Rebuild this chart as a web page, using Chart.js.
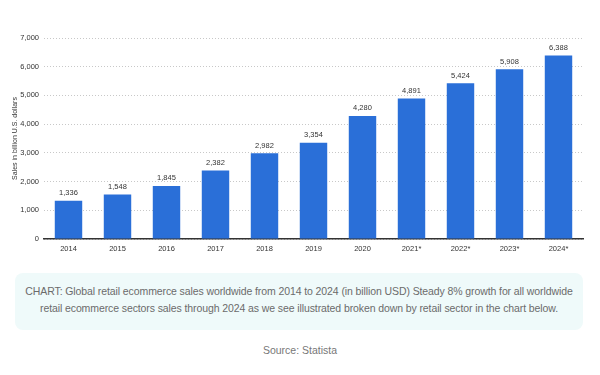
<!DOCTYPE html>
<html>
<head>
<meta charset="utf-8">
<script src="https://cdn.jsdelivr.net/npm/chart.js@4.4.0/dist/chart.umd.min.js"></script>
<style>
  html, body { margin: 0; padding: 0; background: #fff; width: 600px; height: 375px; overflow: hidden; }
  #wrap { position: absolute; left: 0; top: 0; width: 600px; height: 258px; }
  .caption {
    position: absolute; left: 15px; top: 273px; width: 568px; height: 57px;
    background: #effafa; border-radius: 8px;
    font-family: "Liberation Sans", Arial, sans-serif; font-size: 10.5px; line-height: 17px;
    color: #6b6b6b; text-align: center; box-sizing: border-box; padding: 10px 0 0 0;
    white-space: nowrap; letter-spacing: -0.1px;
  }
  .source {
    position: absolute; left: 0; top: 344px; width: 600px; text-align: center;
    font-family: "Liberation Sans", Arial, sans-serif; font-size: 10.5px; color: #777;
  }
</style>
</head>
<body>
<div id="wrap"><canvas id="chart"></canvas></div>
<div class="caption">CHART: Global retail ecommerce sales worldwide from 2014 to 2024 (in billion USD) Steady 8% growth for all worldwide<br>retail ecommerce sectors sales through 2024 as we see illustrated broken down by retail sector in the chart below.</div>
<div class="source">Source: Statista</div>
<script>
// data
const years = ['2014', '2015', '2016', '2017', '2018', '2019', '2020', '2021*', '2022*', '2023*', '2024*'];
const sales = [1336, 1548, 1845, 2382, 2982, 3354, 4280, 4891, 5424, 5908, 6388];
const yTicks = [0, 1000, 2000, 3000, 4000, 5000, 6000, 7000];

const barColor = '#2a6fd8';
const fontFamily = '"Liberation Sans", Arial, sans-serif';

// value labels above each bar
const valueLabels = {
    id: 'valueLabels',
    afterDatasetsDraw(chart) {
        const ctx = chart.ctx;
        const meta = chart.getDatasetMeta(0);
        ctx.save();
        ctx.font = '7.5px ' + fontFamily;
        ctx.fillStyle = '#333';
        ctx.textAlign = 'center';
        ctx.textBaseline = 'bottom';
        meta.data.forEach((bar, i) => {
            ctx.fillText(sales[i].toLocaleString('en-US'), bar.x, bar.y - 4);
        });
        ctx.restore();
    }
};

new Chart(document.getElementById('chart'), {
    type: 'bar',
    data: {
        labels: years,
        datasets: [{
            data: sales,
            backgroundColor: barColor,
            barPercentage: 0.56,
            categoryPercentage: 1.0
        }]
    },
    options: {
        responsive: true,
        maintainAspectRatio: false,
        animation: false,
        layout: { padding: { left: 11, right: 17, top: 38, bottom: 0 } },
        plugins: { legend: { display: false }, tooltip: { enabled: false } },
        scales: {
            x: {
                grid: { display: false, drawTicks: false },
                border: { display: true, color: '#333', width: 1.5 },
                ticks: {
                    color: '#333', padding: 5,
                    font: { size: 7.5, family: fontFamily }
                }
            },
            y: {
                min: 0, max: 7000,
                afterBuildTicks(axis) { axis.ticks = yTicks.map(v => ({ value: v })); },
                afterFit(axis) { axis.width = 33; },
                grid: { color: '#c8c8c8', lineWidth: 1, drawTicks: false },
                border: { display: false, dash: [1, 2] },
                ticks: {
                    color: '#333', padding: 5,
                    font: { size: 7.5, family: fontFamily },
                    callback: v => v.toLocaleString('en-US')
                },
                title: {
                    display: true, text: 'Sales in billion U.S. dollars',
                    color: '#333', padding: 0,
                    font: { size: 7, family: fontFamily }
                }
            }
        }
    },
    plugins: [valueLabels]
});
</script>
</body>
</html>
